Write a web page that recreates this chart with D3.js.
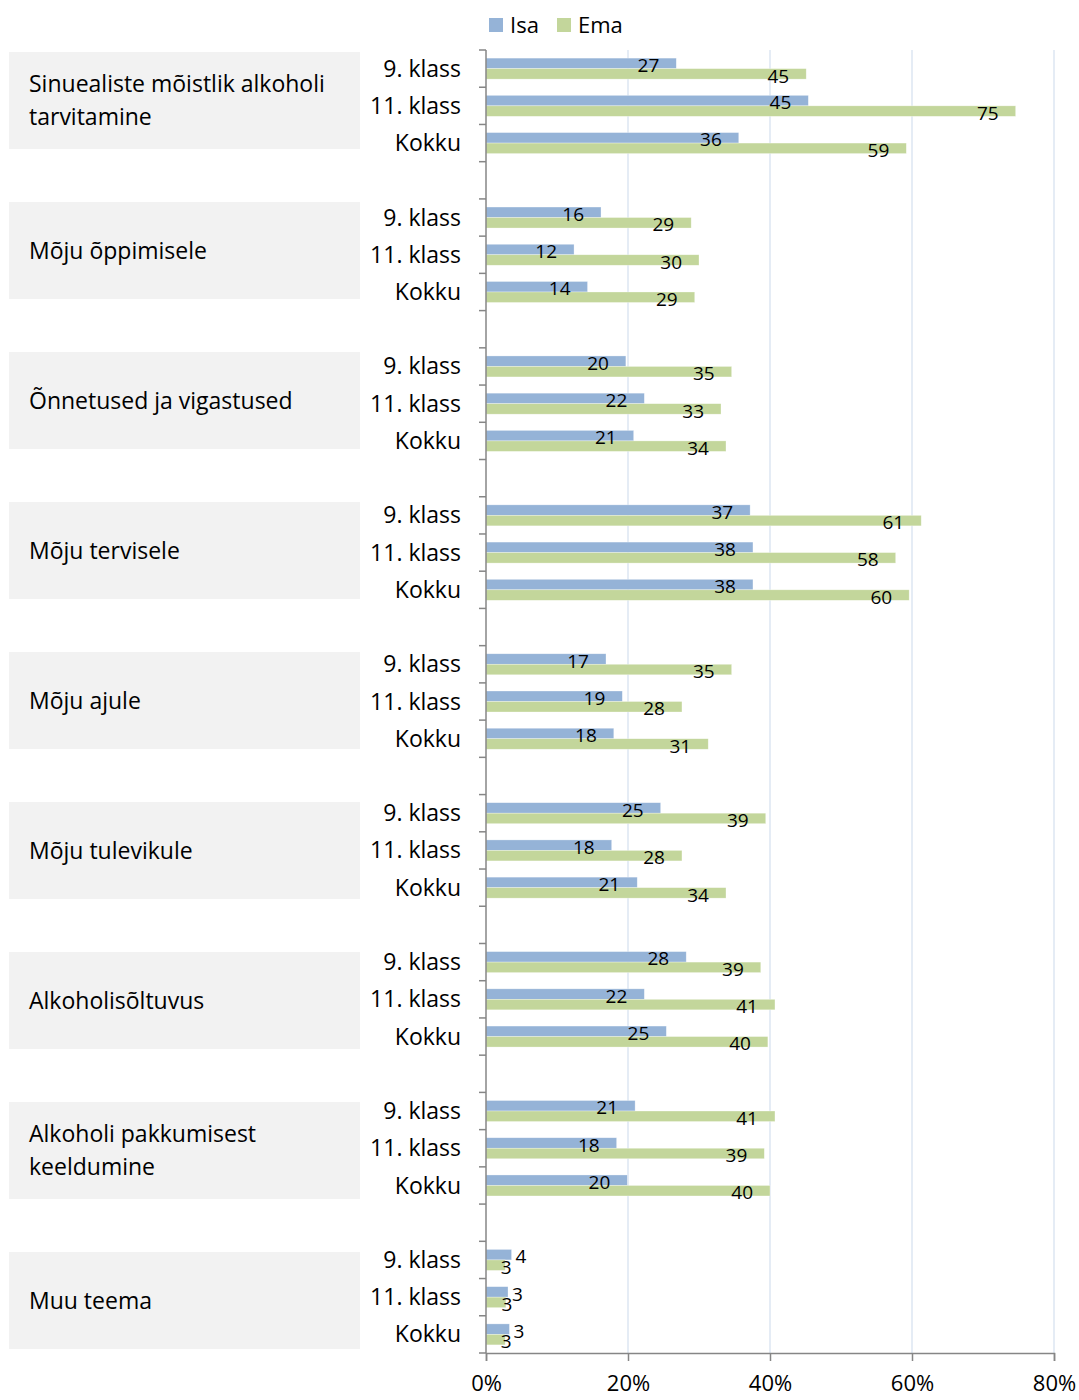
<!DOCTYPE html>
<html lang="et">
<head>
<meta charset="UTF-8">
<title>Vestlusteemad isa ja emaga</title>
<script src="https://d3js.org/d3.v7.min.js"></script>
<style>
  body { margin: 0; background: #fff; }
  svg text { font-family: "Open Sans", "Noto Sans", sans-serif; fill: #000; }
</style>
</head>
<body>
<div id="chart"></div>
<script>
// teemad (grupid) ja klassid
const groups = [
  "Sinuealiste mõistlik alkoholi tarvitamine",
  "Mõju õppimisele",
  "Õnnetused ja vigastused",
  "Mõju tervisele",
  "Mõju ajule",
  "Mõju tulevikule",
  "Alkoholisõltuvus",
  "Alkoholi pakkumisest keeldumine",
  "Muu teema"
];
// how the group names wrap inside the grey boxes
const groupLines = [
  ["Sinuealiste mõistlik alkoholi", "tarvitamine"],
  ["Mõju õppimisele"],
  ["Õnnetused ja vigastused"],
  ["Mõju tervisele"],
  ["Mõju ajule"],
  ["Mõju tulevikule"],
  ["Alkoholisõltuvus"],
  ["Alkoholi pakkumisest", "keeldumine"],
  ["Muu teema"]
];
const rows = ["9. klass", "11. klass", "Kokku"];
const series = ["Isa", "Ema"];

// % per group: 9. klass, 11. klass, Kokku
const isaValues = [
  26.8, 45.4, 35.6,
  16.2, 12.4, 14.3,
  19.7, 22.3, 20.8,
  37.2, 37.6, 37.6,
  16.9, 19.2, 18.0,
  24.6, 17.7, 21.3,
  28.2, 22.3, 25.4,
  21.0, 18.4, 19.9,
  3.6, 3.1, 3.3
];
const emaValues = [
  45.1, 74.6, 59.2,
  28.9, 30.0, 29.4,
  34.6, 33.1, 33.8,
  61.3, 57.7, 59.6,
  34.6, 27.6, 31.3,
  39.4, 27.6, 33.8,
  38.7, 40.7, 39.7,
  40.7, 39.2, 40.0,
  2.7, 2.8, 2.7
];
const xTicks = [0, 20, 40, 60, 80];

const colors = { Isa: "#95b3d7", Ema: "#c3d69b" };
const width = 1079, height = 1400;
const labelSize = 23;    // category and group text
const fontSize = 22;     // legend / axis text
const valueSize = 19;    // data labels

// slots: 3 rows per group plus an empty slot between groups
const slots = [];
groups.forEach((g, gi) => {
  rows.forEach(r => slots.push(gi + "|" + r));
  if (gi < groups.length - 1) slots.push(gi + "|gap");
});

const data = [];
groups.forEach((g, gi) => {
  rows.forEach((r, ri) => {
    const k = gi * rows.length + ri;
    data.push({ slot: gi + "|" + r, row: r, Isa: isaValues[k], Ema: emaValues[k] });
  });
});

const svg = d3.select("#chart").append("svg")
  .attr("width", width)
  .attr("height", height);

const x = d3.scaleLinear().domain([0, 80]).range([486, 1054]);
const y = d3.scaleBand().domain(slots).range([50, 1353]);
const ys = d3.scaleBand().domain(series).range([0, y.bandwidth()]).paddingOuter(0.773);

// grey boxes with group names (separate layout from the bars)
const boxY = d3.scaleBand().domain(groups).range([52, 1349]).paddingInner(0.353);
const boxes = svg.append("g").selectAll("g")
  .data(groups)
  .join("g")
  .attr("transform", d => `translate(9,${boxY(d)})`);
boxes.append("rect")
  .attr("width", 351)
  .attr("height", boxY.bandwidth())
  .attr("fill", "#f2f2f2");
boxes.append("text")
  .attr("font-size", labelSize)
  .selectAll("tspan")
  .data((d, i) => groupLines[i].map((t, j, a) => ({ t, j, n: a.length })))
  .join("tspan")
  .attr("x", 20)
  .attr("y", d => boxY.bandwidth() / 2 + (d.j - (d.n - 1) / 2) * 33)
  .attr("dy", "0.35em")
  .text(d => d.t);

// gridlines
svg.append("g").selectAll("line")
  .data(xTicks.filter(d => d > 0))
  .join("line")
  .attr("x1", d => x(d)).attr("x2", d => x(d))
  .attr("y1", y.range()[0]).attr("y2", y.range()[1])
  .attr("stroke", "#dce6f2")
  .attr("stroke-width", 1.5);

// bars
const rowG = svg.append("g").selectAll("g")
  .data(data)
  .join("g")
  .attr("transform", d => `translate(0,${y(d.slot)})`);

rowG.selectAll("rect")
  .data(d => series.map(s => ({ s, v: d[s] })))
  .join("rect")
  .attr("x", x(0))
  .attr("y", d => ys(d.s))
  .attr("width", d => x(d.v) - x(0))
  .attr("height", ys.bandwidth())
  .attr("fill", d => colors[d.s])
  .attr("stroke", "#fff")
  .attr("stroke-opacity", 0.5)
  .attr("stroke-width", 0.6);

// value labels: inside end; small bars get labels next to the end
rowG.selectAll("text.val")
  .data(d => series.map(s => ({ s, v: d[s] })))
  .join("text")
  .attr("class", "val")
  .attr("font-size", valueSize)
  .attr("x", d => d.v < 5 ? (d.s === "Isa" ? x(d.v) + 4 : x(d.v) + 1) : x(d.v) - 17)
  .attr("y", d => ys(d.s) + ys.bandwidth() / 2 + 2)
  .attr("dy", "0.35em")
  .attr("text-anchor", d => d.v < 5 ? (d.s === "Isa" ? "start" : "middle") : "end")
  .text(d => d3.format(".0f")(d.v));

// row labels
rowG.append("text")
  .attr("x", 461)
  .attr("y", y.bandwidth() / 2)
  .attr("dy", "0.35em")
  .attr("text-anchor", "end")
  .attr("font-size", labelSize)
  .text(d => d.row);

// left axis with ticks at slot boundaries
const bounds = slots.map(s => y(s)).concat([y.range()[1]]);
const left = svg.append("g");
left.append("line")
  .attr("x1", x(0)).attr("x2", x(0))
  .attr("y1", y.range()[0]).attr("y2", y.range()[1])
  .attr("stroke", "#868686").attr("stroke-width", 1.5);
left.selectAll("line.tick")
  .data(bounds)
  .join("line")
  .attr("class", "tick")
  .attr("x1", x(0) - 7).attr("x2", x(0))
  .attr("y1", d => d).attr("y2", d => d)
  .attr("stroke", "#868686").attr("stroke-width", 1.5);

// bottom axis
const bottom = svg.append("g")
  .attr("transform", `translate(0,${y.range()[1]})`)
  .call(d3.axisBottom(x).tickValues(xTicks).tickSize(8).tickPadding(14).tickFormat(d => d + "%"));
bottom.select(".domain").attr("stroke", "#868686").attr("stroke-width", 1.5);
bottom.selectAll(".tick line").attr("stroke", "#868686").attr("stroke-width", 1.5);
bottom.selectAll(".tick text")
  .attr("font-size", fontSize)
  .attr("font-family", "'Open Sans', 'Noto Sans', sans-serif")
  .attr("fill", "#000");

// legend
const legend = svg.append("g").selectAll("g")
  .data(series)
  .join("g")
  .attr("transform", (d, i) => `translate(${489 + i * 68},18)`);
legend.append("rect")
  .attr("width", 14).attr("height", 14)
  .attr("fill", d => colors[d]);
legend.append("text")
  .attr("x", 21).attr("y", 7)
  .attr("dy", "0.35em")
  .attr("font-size", fontSize)
  .text(d => d);
</script>
</body>
</html>
